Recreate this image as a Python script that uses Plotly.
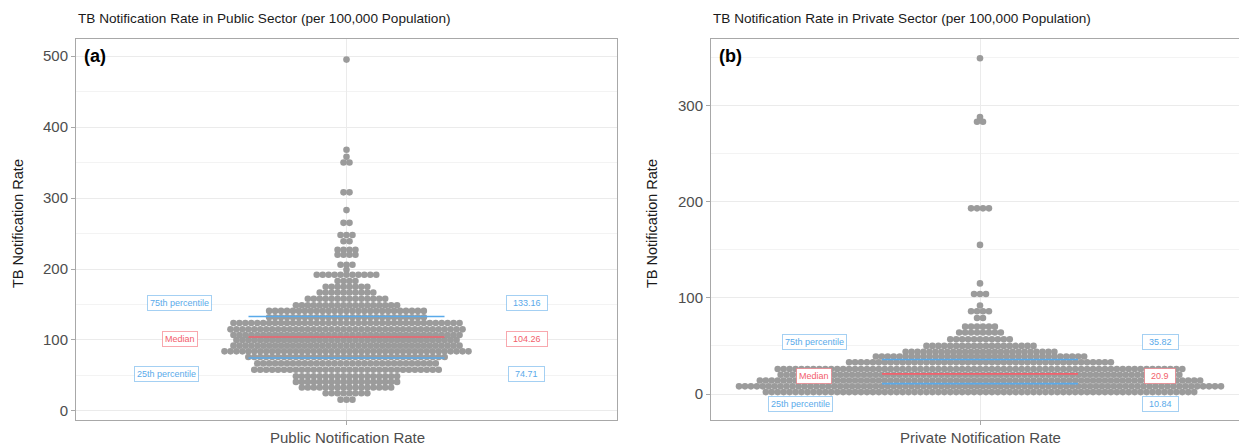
import plotly.graph_objects as go
from plotly.subplots import make_subplots

# rows of the dot plots: bin value (rate) and number of stacked dots in that bin
public_vals = [495, 368, 358, 350, 308, 283, 265, 248, 239, 227, 220, 206, 199, 192, 183,
               175, 167, 158, 149, 141, 132, 124, 115, 107, 100, 92, 84, 76, 67, 58,
               49, 41, 33, 25, 16]
public_counts = [1, 1, 1, 2, 2, 1, 2, 3, 2, 4, 4, 3, 1, 11, 4,
                 8, 10, 14, 18, 27, 27, 39, 40, 39, 38, 39, 42, 34, 31, 32,
                 18, 18, 16, 8, 3]

private_vals = [349, 288, 283, 193, 155, 115, 104, 92, 86, 79, 70, 64, 57, 50, 44,
                39, 33, 26, 20, 14, 8, 2]
private_counts = [1, 1, 2, 4, 1, 1, 3, 1, 4, 2, 6, 8, 11, 19, 26,
                  36, 45, 69, 68, 75, 82, 73]

# quartiles
public_q = {"q25": 74.71, "median": 104.26, "q75": 133.16}
private_q = {"q25": 10.84, "median": 20.9, "q75": 35.82}

titles = ["TB Notification Rate in Public Sector (per 100,000 Population)",
          "TB Notification Rate in Private Sector (per 100,000 Population)"]
x_titles = ["Public Notification Rate", "Private Notification Rate"]
tags = ["(a)", "(b)"]

# ---- styling ----
# page has an 8px body margin, so the figure is shrunk by that much
OFF = 8
W, H = 1247 - OFF, 447 - OFF
PLOT_L, PLOT_R, PLOT_T, PLOT_B = 76, 1247, 39, 420   # page pixels
PW, PH = PLOT_R - PLOT_L, PLOT_B - PLOT_T
ML, MT = PLOT_L - OFF, PLOT_T - OFF
MR, MB = W - ML - PW, H - MT - PH
FONT = "Liberation Sans, Arial, sans-serif"
DOT = "#9b9b9b"
BLUE = "#5aaaea"
RED = "#f2606c"
STEP = 5.95       # px between stacked dots
LINE_HALF = 98    # px half length of quartile segments


def px_x(p):
    return (p - PLOT_L) / PW


def px_y(p):
    return 1 - (p - PLOT_T) / PH


dom_a = [0, px_x(617)]
dom_b = [px_x(711), 1]

fig = make_subplots(rows=1, cols=2, horizontal_spacing=0.0)


def num_width(s):
    # rough text width of a number label at 9px
    return sum(2.5 if c == "." else 5 for c in s) + 8


def add_panel(col, vals, counts, q, yrange, xrange, lab_off, lab_x):
    xs, ys = [], []
    for v, n in zip(vals, counts):
        for i in range(n):
            xs.append((i - (n - 1) / 2) * STEP)
            ys.append(v)
    fig.add_trace(go.Scatter(
        x=xs, y=ys, mode="markers",
        marker=dict(size=6.6, color=DOT, line=dict(width=0)),
        showlegend=False, hoverinfo="y"
    ), row=1, col=col)

    for key, colr in [("q75", BLUE), ("median", RED), ("q25", BLUE)]:
        fig.add_trace(go.Scatter(
            x=[-LINE_HALF, LINE_HALF], y=[q[key], q[key]], mode="lines",
            line=dict(color=colr, width=1.6), showlegend=False, hoverinfo="skip"
        ), row=1, col=col)

    xa = "x" if col == 1 else "x2"
    ya = "y" if col == 1 else "y2"
    names = {"q75": "75th percentile", "median": "Median", "q25": "25th percentile"}
    for key, colr, bc in [("q75", BLUE, "rgba(90,170,234,0.55)"),
                          ("median", RED, "rgba(242,96,108,0.55)"),
                          ("q25", BLUE, "rgba(90,170,234,0.55)")]:
        yy = q[key] + lab_off[key]
        fig.add_annotation(x=lab_x[key], y=yy, xref=xa, yref=ya, text=names[key],
                           showarrow=False, font=dict(family=FONT, size=9, color=colr),
                           bgcolor="white", bordercolor=bc, borderwidth=1, borderpad=2)
        s = "%g" % q[key]
        fig.add_annotation(x=lab_x["right"], y=yy, xref=xa, yref=ya, text=s,
                           width=num_width(s),
                           showarrow=False, font=dict(family=FONT, size=9, color=colr),
                           bgcolor="white", bordercolor=bc, borderwidth=1, borderpad=2)

    fig.update_xaxes(range=xrange, row=1, col=col)
    fig.update_yaxes(range=yrange, row=1, col=col)


add_panel(1, public_vals, public_counts, public_q, [-12.7, 524], [-270.5, 270.5],
          {"q75": 19, "median": -3, "q25": -23},
          {"q75": -167, "median": -167, "q25": -180, "right": 180})
# right side of panel (b) runs off the edge of the picture
add_panel(2, private_vals, private_counts, private_q, [-27, 369], [-269, 267],
          {"q75": 18, "median": -2, "q25": -21.5},
          {"q75": -166, "median": -166, "q25": -180, "right": 180})

axis_common = dict(
    showline=True, mirror=True, linecolor="#a8a8a8", linewidth=1,
    ticks="outside", ticklen=4, tickcolor="#a8a8a8",
    gridcolor="#ebebeb", gridwidth=1, zeroline=False,
    tickfont=dict(family=FONT, size=15, color="#4d4d4d"),
)
fig.update_xaxes(axis_common, tickvals=[0], showticklabels=False)
fig.update_yaxes(axis_common, dtick=100, tick0=0,
                 minor=dict(dtick=50, tick0=0, showgrid=True, gridcolor="#f3f3f3", ticks=""))
fig.update_layout(xaxis=dict(domain=dom_a), xaxis2=dict(domain=dom_b),
                  yaxis2=dict(mirror=False))

# titles, axis titles, panel tags
for i, x0 in enumerate([76, 711]):
    fig.add_annotation(x=px_x(x0), y=px_y(18), xref="paper", yref="paper",
                       text=titles[i], showarrow=False, xanchor="left", yanchor="middle",
                       font=dict(family=FONT, size=13.6, color="#1a1a1a"))
for xpx, cx, i in [(18, 347, 0), (652, 980, 1)]:
    fig.add_annotation(x=px_x(xpx), y=px_y(224), xref="paper", yref="paper",
                       text="TB Notification Rate", textangle=-90, showarrow=False,
                       xanchor="center", yanchor="middle",
                       font=dict(family=FONT, size=14.5, color="#1a1a1a"))
    fig.add_annotation(x=px_x(cx), y=px_y(438), xref="paper", yref="paper",
                       text=x_titles[i], showarrow=False,
                       xanchor="center", yanchor="middle",
                       font=dict(family=FONT, size=15, color="#4d4d4d"))
for i, xa in enumerate(["x domain", "x2 domain"]):
    ya = "y domain" if i == 0 else "y2 domain"
    fig.add_annotation(x=0.012, y=0.955, xref=xa, yref=ya, text="<b>%s</b>" % tags[i],
                       showarrow=False, xanchor="left", yanchor="middle",
                       font=dict(family=FONT, size=18, color="black"))

fig.update_layout(
    width=W, height=H,
    margin=dict(l=ML, r=MR, t=MT, b=MB, pad=0),
    plot_bgcolor="white", paper_bgcolor="white",
    showlegend=False,
)

fig.write_html("out.html")
